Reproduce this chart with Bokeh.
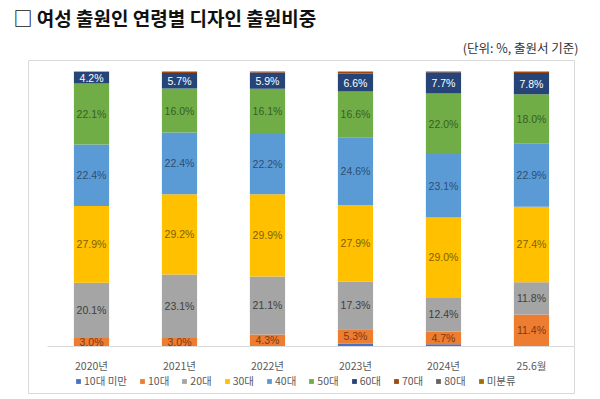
from bokeh.plotting import figure
from bokeh.models import ColumnDataSource, Range1d, Legend, LegendItem, Title
from bokeh.core.properties import value
from bokeh.embed import file_html
from bokeh.resources import INLINE

years = ["2020년", "2021년", "2022년", "2023년", "2024년", "25.6월"]
groups = ["10대 미만", "10대", "20대", "30대", "40대", "50대", "60대", "70대", "80대", "미분류"]
under10 = [0.1, 0.1, 0.1, 1.0, 0.8, 0.2]
teens = [3.0, 3.0, 4.3, 5.3, 4.7, 11.4]
twenties = [20.1, 23.1, 21.1, 17.3, 12.4, 11.8]
thirties = [27.9, 29.2, 29.9, 27.9, 29.0, 27.4]
forties = [22.4, 22.4, 22.2, 24.6, 23.1, 22.9]
fifties = [22.1, 16.0, 16.1, 16.6, 22.0, 18.0]
sixties = [4.2, 5.7, 5.9, 6.6, 7.7, 7.8]
seventies = [0.2, 0.5, 0.4, 0.7, 0.3, 0.5]
eighties = [0.0, 0.0, 0.0, 0.0, 0.0, 0.0]
unclassified = [0.0, 0.0, 0.0, 0.0, 0.0, 0.0]

series = [under10, teens, twenties, thirties, forties, fifties, sixties, seventies, eighties, unclassified]
colors = ["#4472C4", "#ED7D31", "#A5A5A5", "#FFC000", "#5B9BD5", "#70AD47",
          "#264478", "#9E480E", "#636363", "#997300"]
label_colors = [None, "#7a3a12", "#404040", "#7f6000", "#2e4e72", "#3a5e24",
                "#ffffff", None, None, None]

xs = list(range(len(years)))
data = {"x": xs}
for g, s in zip(groups, series):
    data[g] = s
source = ColumnDataSource(data)

p = figure(width=592, height=395, output_backend="svg", toolbar_location=None,
           x_range=Range1d(-0.716, 5.489), y_range=Range1d(-17.09, 104.0),
           min_border_left=28, min_border_right=18, min_border_top=60, min_border_bottom=2)
p.outline_line_color = "#d9d9d9"
p.outline_line_width = 1
p.grid.visible = False
p.yaxis.visible = False
p.xaxis.visible = False

renderers = p.vbar_stack(groups, x="x", width=0.4, color=colors, source=source, line_width=0)

# baseline axis line
p.line(x=[xs[0] - 0.5, xs[-1] + 0.5], y=[0, 0], line_color="#d9d9d9", line_width=1)

# data labels
bottoms = [0.0] * len(years)
for g, s, lc in zip(groups, series, label_colors):
    mids = [b + v / 2 for b, v in zip(bottoms, s)]
    if lc is not None:
        texts = ["%.1f%%" % v for v in s]
        p.text(x=xs, y=mids, text=texts, text_align="center", text_baseline="middle",
               text_font=value("Liberation Sans"), text_font_size="10.5px", text_color=lc)
    bottoms = [b + v for b, v in zip(bottoms, s)]

# category labels
p.text(x=xs, y=[0] * len(xs), text=years, y_offset=19, text_align="center",
       text_baseline="middle", text_font=value("Noto Sans CJK KR"), text_font_size="10.5px",
       text_color="#595959")

legend = Legend(items=[LegendItem(label=g, renderers=[r]) for g, r in zip(groups, renderers)],
                orientation="horizontal", location=(47, 5), padding=0, margin=0,
                spacing=12, glyph_width=6, glyph_height=6, label_standoff=3,
                label_text_font="Noto Sans CJK KR", label_text_font_size="10.5px",
                label_text_color="#595959", background_fill_alpha=0, border_line_alpha=0,
                label_height=14)
p.add_layout(legend, "center")

p.add_layout(Title(text="(단위: %, 출원서 기준)", align="right", offset=-4,
                   text_font="Noto Sans CJK KR", text_font_size="12.5px",
                   text_font_style="normal", text_color="#333333", standoff=7), "above")
p.add_layout(Title(text="□ 여성 출원인 연령별 디자인 출원비중", align="left", offset=-15,
                   text_font="Noto Sans CJK KR", text_font_size="19px",
                   text_font_style="bold", text_color="#111111", standoff=3), "above")

open("out.html", "w").write(file_html(p, INLINE))
